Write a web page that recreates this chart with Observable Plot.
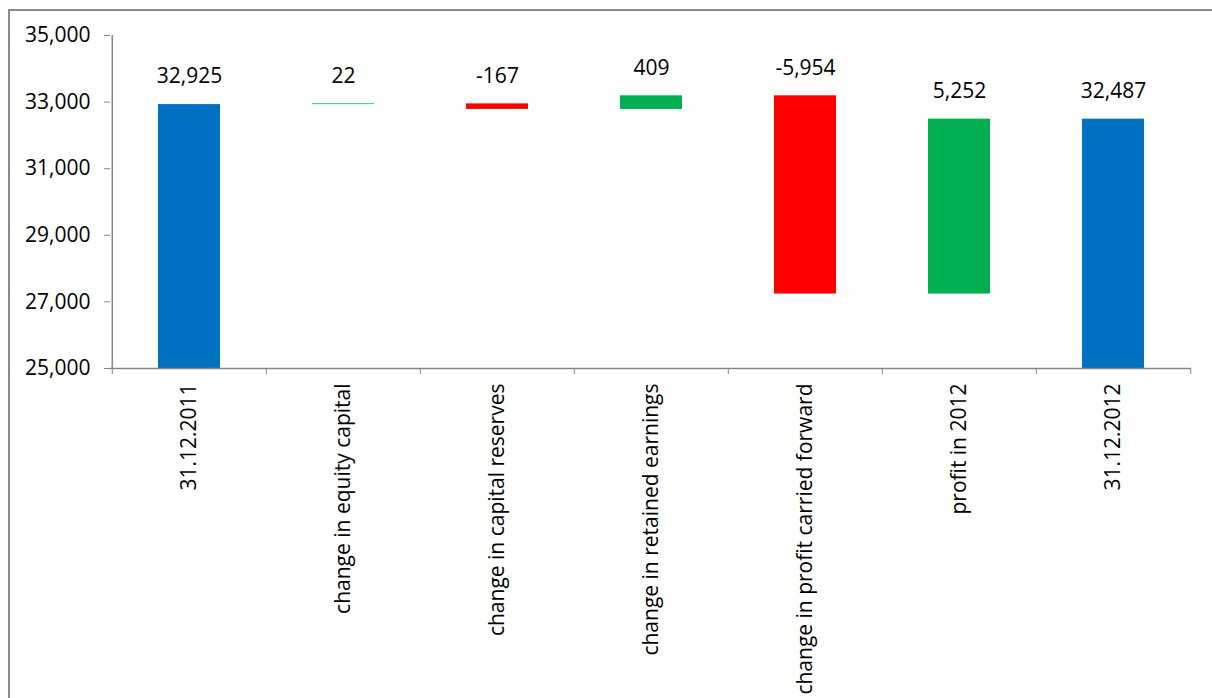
<!DOCTYPE html>
<html><head><meta charset="utf-8">
<script src="https://cdn.jsdelivr.net/npm/d3@7"></script>
<script src="https://cdn.jsdelivr.net/npm/@observablehq/plot@0.6"></script>
<style>
html,body{margin:0;padding:0;background:#fff;overflow:hidden;width:1212px;height:698px}
#frame{position:absolute;left:8px;top:9px;width:1400px;height:900px;border:2px solid #8a8a8a;box-sizing:border-box}
#chart{position:absolute;left:0;top:0}
</style></head><body><div id="frame"></div><div id="chart"></div>
<script>
const categories = ["31.12.2011", "change in equity capital", "change in capital reserves", "change in retained earnings", "change in profit carried forward", "profit in 2012", "31.12.2012"];
const values = [32925, 22, -167, 409, -5954, 5252, 32487];
const kinds = ["total", "change", "change", "change", "change", "change", "total"];
const yTicks = [25000, 27000, 29000, 31000, 33000, 35000];
const yDomain = [25000, 35000];

let running = 0;
const rows = categories.map((c, i) => {
  let start, end;
  if (kinds[i] === "total") { start = yDomain[0]; end = values[i]; running = values[i]; }
  else { start = running; end = running + values[i]; running = end; }
  return {category: c, value: values[i], kind: kinds[i], start, end};
});
const colorOf = d => d.kind === "total" ? "#0070C0" : (d.value >= 0 ? "#00B050" : "#FF0000");
const fmt = v => v.toLocaleString("en-US");

const W = 1212, H = 698, ML = 110, MR = 21, MT = 35, MB = 330;
const step = (W - ML - MR) / categories.length;
const gray = "#868686";
const FS = 21;

const chart = Plot.plot({
  width: W, height: H,
  marginLeft: ML, marginRight: MR, marginTop: MT, marginBottom: MB,
  style: {fontFamily: "'Open Sans', sans-serif", color: "black", background: "transparent"},
  x: {domain: categories, paddingInner: 0.6, paddingOuter: 0.3, label: null},
  y: {domain: yDomain, label: null},
  marks: [
    Plot.barY(rows, {x: "category", y1: "start", y2: "end", fill: colorOf}),
    Plot.text(rows, {x: "category", y: d => Math.max(d.start, d.end), text: d => fmt(d.value), dy: -28, fontSize: FS, fill: "black"}),
    Plot.ruleY([yDomain[0]], {stroke: gray, strokeWidth: 1.5}),
    Plot.ruleX([categories[0]], {y1: yDomain[0], y2: yDomain[1], dx: -step / 2, stroke: gray, strokeWidth: 1.5}),
    Plot.axisY({ticks: yTicks, tickFormat: fmt, tickSize: 6, tickPadding: 14, fontSize: FS, stroke: gray, fill: "black", label: null}),
    Plot.axisX({tickSize: 6, tickFormat: () => "", dx: -step / 2, stroke: gray, label: null}),
    Plot.axisX({ticks: [categories[categories.length - 1]], tickSize: 6, tickFormat: () => "", dx: step / 2, stroke: gray, label: null}),
    Plot.axisX({tickSize: 0, tickRotate: -90, tickPadding: 15, fontSize: FS, fill: "black", label: null})
  ]
});
document.getElementById("chart").appendChild(chart);
</script>
</body></html>
